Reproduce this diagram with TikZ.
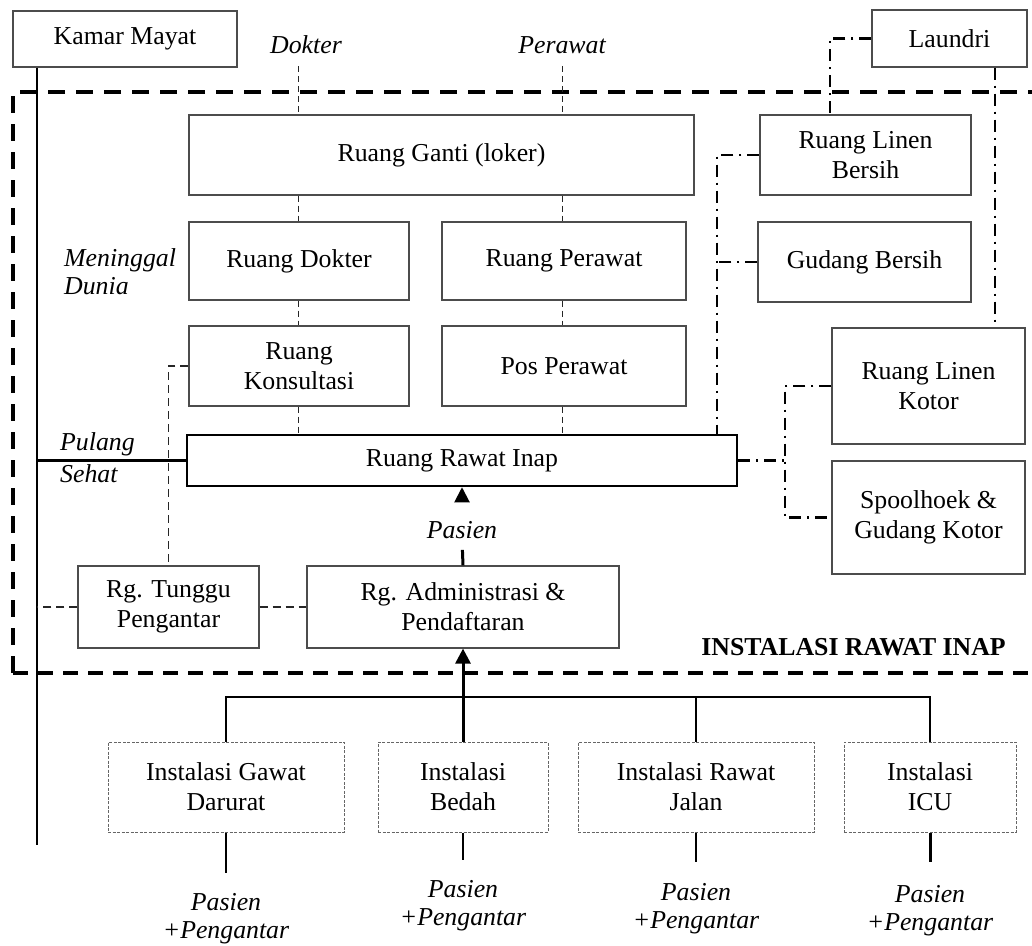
\documentclass[tikz,border=0pt]{standalone}
\usepackage{fontspec}
\setmainfont{Liberation Serif}
\usetikzlibrary{arrows.meta,calc}
\begin{document}
\begin{tikzpicture}[x=1pt,y=-1pt,
  room/.style={font=\fontsize{25.8}{30}\selectfont, draw=black!70, line width=1.2pt, align=center, inner sep=0pt},
  inst/.style={font=\fontsize{25.8}{30}\selectfont, draw=black!60, line width=1pt, dash pattern=on 3pt off 1.5pt, align=center, inner sep=0pt},
  lbl/.style={font=\fontsize{25.8}{28}\selectfont\itshape, inner sep=0pt, align=center},
  staff/.style={black!85, line width=1pt, dash pattern=on 6pt off 4pt},
  wait/.style={black!85, line width=1.3pt, dash pattern=on 8pt off 5pt},
  linen/.style={line width=2.3pt, dash pattern=on 12pt off 6pt on 2pt off 6pt},
  flow/.style={line width=2pt},
  tip/.style={-{Triangle[length=15pt,width=15pt]}},
]
\useasboundingbox (0,0) rectangle (1032,945);

% zone boundary of the inpatient unit
\draw[line width=3.5pt, dash pattern=on 17pt off 11pt] (1045,92) -- (13,92) -- (13,673);
\draw[line width=3.5pt, dash pattern=on 15pt off 10pt] (13,673) -- (1045,673);
\node[font=\fontsize{25.8}{30}\selectfont\bfseries, inner sep=0pt, anchor=east] (zonename) at (1006,647.5) {INSTALASI RAWAT INAP};

% rooms
\node[room, minimum width=224, minimum height=56] (kamar) at (125,39) {Kamar Mayat};
\node[room, minimum width=505, minimum height=80] (ganti) at (441.5,155) {Ruang Ganti (loker)};
\node[room, minimum width=220, minimum height=78] (dokterR) at (299,261) {Ruang Dokter};
\node[room, minimum width=244, minimum height=78] (perawatR) at (564,261) {Ruang Perawat};
\node[room, minimum width=220, minimum height=80] (konsul) at (299,366) {Ruang\\Konsultasi};
\node[room, minimum width=244, minimum height=80] (pos) at (564,366) {Pos Perawat};
\node[room, draw=black, line width=2.5pt, minimum width=550, minimum height=51] (rawat) at (462,460.5) {Ruang Rawat Inap};
\node[room, minimum width=181, minimum height=82] (tunggu) at (168.5,607) {Rg. Tunggu\\Pengantar};
\node[room, minimum width=312, minimum height=82] (admin) at (463,607) {Rg. Administrasi \&\\Pendaftaran};

\node[room, minimum width=155, minimum height=57] (laundri) at (949.5,38.5) {Laundri};
\node[room, minimum width=211, minimum height=80] (linenB) at (865.5,155) {Ruang Linen\\Bersih};
\node[room, minimum width=213, minimum height=80] (gudangB) at (864.5,262) {Gudang Bersih};
\node[room, minimum width=193, minimum height=116] (linenK) at (928.5,386) {Ruang Linen\\Kotor};
\node[room, minimum width=193, minimum height=113] (spool) at (928.5,517.5) {Spoolhoek \&\\Gudang Kotor};

% feeding installations
\node[inst, minimum width=236, minimum height=90] (igd) at (226,787) {Instalasi Gawat\\Darurat};
\node[inst, minimum width=170, minimum height=90] (bedah) at (463,787) {Instalasi\\Bedah};
\node[inst, minimum width=236, minimum height=90] (irj) at (696,787) {Instalasi Rawat\\Jalan};
\node[inst, minimum width=172, minimum height=90] (icu) at (930,787) {Instalasi\\ICU};

% flow labels
\node[lbl] (dokter) at (306,45) {Dokter};
\node[lbl] (perawat) at (562,45) {Perawat};
\node[lbl, align=left, anchor=west] (mati) at (64,272) {Meninggal\\Dunia};
\node[lbl, font=\fontsize{25.8}{32}\selectfont\itshape, align=left, anchor=west] (pulang) at (60,458) {Pulang\\Sehat};
\node[lbl] (pasien) at (462,530) {Pasien};
\node[lbl, anchor=north] (p1) at (226,893) {Pasien\\+Pengantar};
\node[lbl, anchor=north] (p2) at (463,880) {Pasien\\+Pengantar};
\node[lbl, anchor=north] (p3) at (696,883) {Pasien\\+Pengantar};
\node[lbl, anchor=north] (p4) at (930,885) {Pasien\\+Pengantar};

% helper coordinates for line columns and rows
\coordinate (km) at (37,845);
\coordinate (dk) at (298.5,0);
\coordinate (pr) at (562,0);
\coordinate (ja) at (830,0);
\coordinate (jb) at (995,0);
\coordinate (jc) at (717,0);
\coordinate (jd) at (785,460.5);
\coordinate (busy) at (0,697);

% mortuary exit line
\draw[line width=2pt] (kamar.south -| km) -- (km);
\draw[line width=2.5pt] (rawat.west) -- (rawat.west -| km);
\draw[wait] (tunggu.west) -- (tunggu.west -| km);

% staff circulation
\draw[staff, shorten <=12pt] (dokter.south -| dk) -- (ganti.north -| dk);
\draw[staff] (ganti.south -| dk) -- (dokterR.north -| dk);
\draw[staff] (dokterR.south -| dk) -- (konsul.north -| dk);
\draw[staff] (konsul.south -| dk) -- (rawat.north -| dk);
\draw[staff, shorten <=12pt] (perawat.south -| pr) -- (ganti.north -| pr);
\draw[staff] (ganti.south -| pr) -- (perawatR.north -| pr);
\draw[staff] (perawatR.south -| pr) -- (pos.north -| pr);
\draw[staff] (pos.south -| pr) -- (rawat.north -| pr);

% visitors
\draw[wait] (konsul.west) -| (tunggu.north);
\draw[wait] (tunggu.east) -- (admin.west);

% patient flow
\draw[line width=3pt, shorten >=11pt] (admin.north) -- (pasien.south);
\draw[tip, line width=2pt, shorten <=20pt] (pasien.north) -- (rawat.south);
\draw[tip, line width=3pt] (bedah.north) -- (admin.south);
\draw[line width=2.8pt] (igd.north) -- (igd.north |- busy) -- (icu.north |- busy) -- (icu.north);
\draw[line width=2pt] (irj.north) -- (irj.north |- busy);
\draw[flow, shorten >=20pt] (igd.south) -- (p1.north);
\draw[flow, shorten >=20pt] (bedah.south) -- (p2.north);
\draw[flow, shorten >=21pt] (irj.south) -- (p3.north);
\draw[line width=3pt, shorten >=23pt] (icu.south) -- (p4.north);

% linen circulation
\draw[linen] (laundri.west) -| (linenB.north -| ja);
\draw[linen] (laundri.south -| jb) -- (linenK.north -| jb);
\draw[linen] (linenB.west) -| (rawat.north -| jc);
\draw[linen] (gudangB.west) -- (gudangB.west -| jc);
\draw[linen] (rawat.east) -- (jd);
\draw[linen] (linenK.west) -| (jd) |- (spool.west);
\end{tikzpicture}
\end{document}
